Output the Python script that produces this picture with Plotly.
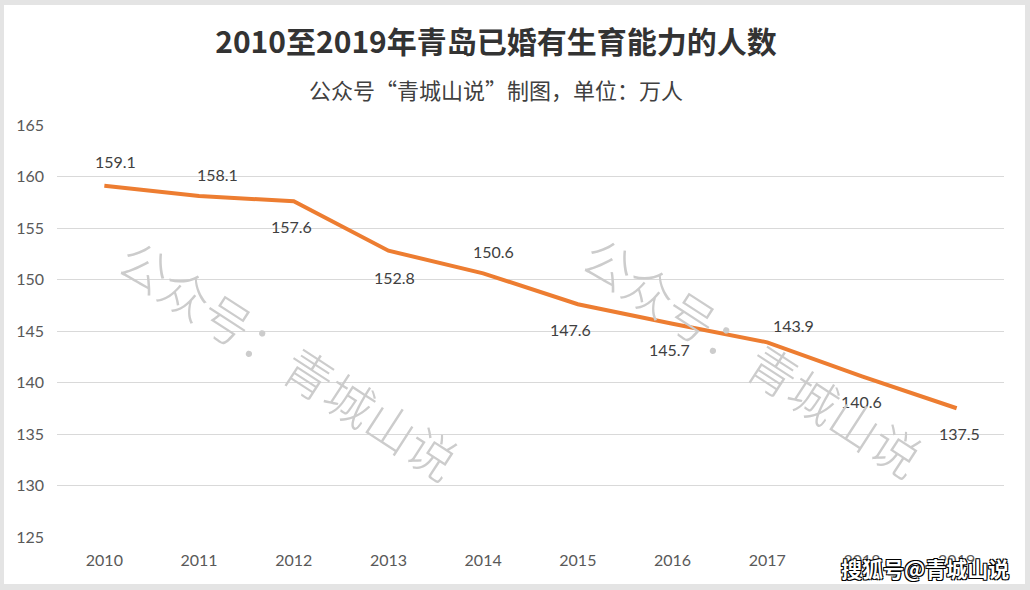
import plotly.graph_objects as go

years = ["2010", "2011", "2012", "2013", "2014", "2015", "2016", "2017", "2018", "2019"]
values = [159.1, 158.1, 157.6, 152.8, 150.6, 147.6, 145.7, 143.9, 140.6, 137.5]
y_ticks = [125, 130, 135, 140, 145, 150, 155, 160, 165]

title = "2010至2019年青岛已婚有生育能力的人数"
subtitle = "公众号“青城山说”制图，单位：万人"
watermark = "公众号：青城山说"
corner_mark = "搜狐号@青城山说"

# label offsets (styling): (xshift, yshift) in px
label_offsets = [(11, 24), (18, 22), (-2, -25), (6, -27), (10, 22),
                 (-7, -25), (-3, -26), (26, 17), (0, -25), (3, -25)]

W, H = 1030, 590
L, R, T, B = 57, 1004, 125, 537


def px(x):
    return (x - L) / (R - L)


def py(y):
    return (B - y) / (B - T)


fig = go.Figure()
fig.add_trace(go.Scatter(
    x=years, y=values, mode="lines",
    line=dict(color="#ED7D31", width=4),
    hoverinfo="x+y", showlegend=False,
))

annotations = []
for i, (v, (dx, dy)) in enumerate(zip(values, label_offsets)):
    annotations.append(dict(
        x=i, y=v, xref="x", yref="y", text=f"{v:.1f}", showarrow=False,
        xshift=dx, yshift=dy,
        font=dict(family="Lato, Open Sans, sans-serif", size=16, color="#404040"),
    ))

annotations.append(dict(
    x=px(496), y=py(89), xref="paper", yref="paper", text=subtitle,
    showarrow=False, xanchor="center", yanchor="middle",
    font=dict(family="Noto Sans CJK SC", size=22, color="#404040"),
))

for cx, cy in [(290, 358), (754, 355)]:
    annotations.append(dict(
        x=px(cx), y=py(cy), xref="paper", yref="paper", text=watermark,
        showarrow=False, textangle=33, xanchor="center", yanchor="middle",
        font=dict(family="Noto Sans CJK SC", size=49, color="#cccccc", weight=300),
    ))

annotations.append(dict(
    x=px(925), y=py(568), xref="paper", yref="paper", text=f"<b>{corner_mark}</b>",
    showarrow=False, xanchor="center", yanchor="middle",
    font=dict(family="Noto Sans CJK SC", size=21, color="white",
              shadow="1px 1px 0 #000, -1px -1px 0 #000, 1px -1px 0 #000, -1px 1px 0 #000"),
))

fig.update_layout(
    width=W, height=H,
    margin=dict(l=L, r=W - R, t=T, b=H - B, pad=0),
    paper_bgcolor="#e4e4e4",
    plot_bgcolor="rgba(0,0,0,0)",
    title=dict(
        text=f"<b>{title}</b>", x=496 / W, xanchor="center",
        y=1 - 42 / H, yanchor="middle", yref="container", xref="container",
        font=dict(family="Noto Sans CJK SC", size=30, color="#333333"),
    ),
    xaxis=dict(
        type="category", range=[-0.5, 9.5], showgrid=False, showline=False,
        zeroline=False, ticks="", tickfont=dict(family="Lato, Open Sans, sans-serif", size=16, color="#595959"),
        ticklabelstandoff=12,
    ),
    yaxis=dict(
        range=[125, 165], tickvals=y_ticks, showgrid=True, gridcolor="#d9d9d9",
        gridwidth=1, zeroline=False, showline=False, ticks="",
        tickfont=dict(family="Lato, Open Sans, sans-serif", size=16, color="#595959"),
        ticklabelstandoff=12,
    ),
    annotations=annotations,
    shapes=[dict(
        type="rect", xref="paper", yref="paper",
        x0=px(4), x1=px(1025), y0=py(584), y1=py(5),
        fillcolor="white", line=dict(width=0), layer="below",
    )],
)

fig.write_html("out.html")
